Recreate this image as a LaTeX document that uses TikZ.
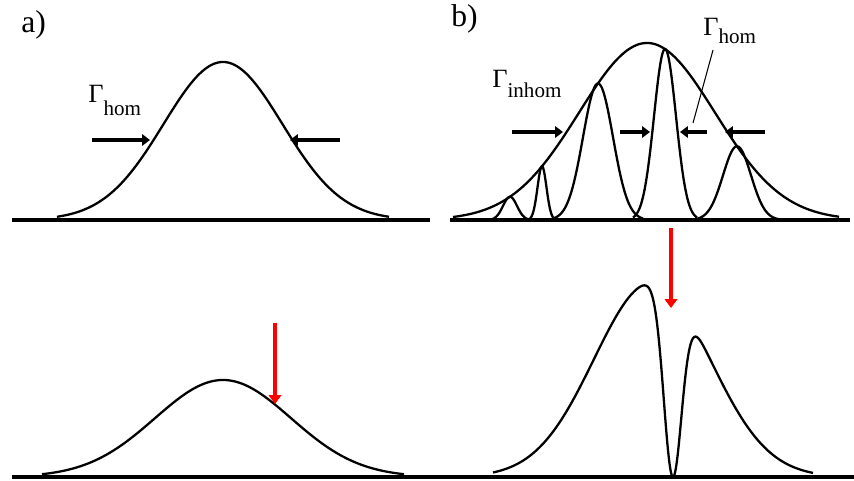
\documentclass[tikz,border=0pt]{standalone}
\usepackage{fontspec}
\setmainfont{Liberation Serif}
\usetikzlibrary{arrows.meta}
\begin{document}
\begin{tikzpicture}[x=0.02cm,y=-0.02cm,
  curve/.style={line width=1.3pt, line join=round},
  baseln/.style={line width=1.8pt},
  blkarrow/.style={line width=2.2pt,-{Triangle[length=4.5pt,width=6.5pt]}},
  redarrow/.style={line width=2.2pt,draw={rgb,255:red,255;green,0;blue,0},-{Triangle[length=5pt,width=7pt]}},
  lbl/.style={inner sep=0pt, anchor=base west, font=\fontsize{15}{18}\selectfont},
  panel/.style={inner sep=0pt, anchor=base west, font=\fontsize{18}{21}\selectfont},
  declare function={
    gs(\x,\c,\s)=exp(-min(0.5*((\x-\c)/\s)^2,30));
    env(\x)=177*gs(\x,647,68);}]
\useasboundingbox (0,0) rectangle (854,480);

% panel labels
\node[panel] (la) at (21,32) {a)};
\node[panel] (lb) at (451,27) {b)};

% ---- top a ----
\draw[baseln] (12,220) -- (430,220);
\draw[curve] plot[domain=57:389, samples=160] (\x,{220-158*gs(\x,223,59.5)});
\coordinate (a1s) at (92,140);  \coordinate (a1e) at (150,140);
\coordinate (a2s) at (340,140); \coordinate (a2e) at (290,140);
\draw[blkarrow] (a1s) -- (a1e);
\draw[blkarrow] (a2s) -- (a2e);
\node[lbl] (ga) at (88,102) {Γ\raisebox{-7.5pt}{\fontsize{12}{14}\selectfont hom}};

% ---- top b ----
\draw[baseln] (450,220) -- (850,220);
\draw[curve] plot[domain=453:839, samples=200] (\x,{220-env(\x)});
\draw[curve] plot[domain=489:531, samples=60] (\x,{220-env(510)*gs(\x,510,7)});
\draw[curve] plot[domain=529:555, samples=60] (\x,{220-env(542)*gs(\x,542,4.5)});
\draw[curve] plot[domain=553:643, samples=100] (\x,{220-env(598)*gs(\x,598,15)});
\draw[curve] plot[domain=633:697, samples=100] (\x,{220-env(665)*gs(\x,665,11)});
\draw[curve] plot[domain=695:779, samples=100] (\x,{220-env(737)*gs(\x,737,14)});
\coordinate (b1s) at (512,132); \coordinate (b1e) at (563,132);
\coordinate (b2s) at (620,132); \coordinate (b2e) at (650,132);
\coordinate (b3s) at (707,132); \coordinate (b3e) at (680,132);
\coordinate (b4s) at (765,132); \coordinate (b4e) at (725,132);
\draw[blkarrow] (b1s) -- (b1e);
\draw[blkarrow] (b2s) -- (b2e);
\draw[blkarrow] (b3s) -- (b3e);
\draw[blkarrow] (b4s) -- (b4e);
\node[lbl] (gi) at (492,87) {Γ\raisebox{-6.2pt}{\fontsize{12}{14}\selectfont inhom}};
\node[lbl] (gh) at (703,35) {Γ\raisebox{-4.6pt}{\fontsize{12}{14}\selectfont hom}};
\coordinate (ls) at (713,50); \coordinate (le) at (693,123);
\draw[line width=0.6pt] (ls) -- (le);

% red arrow between b panels
\coordinate (r1s) at (671,228); \coordinate (r1e) at (671,308);
\draw[redarrow] (r1s) -- (r1e);

% ---- bottom a ----
\draw[baseln] (12,477) -- (430,477);
\draw[curve] plot[domain=42:404, samples=160] (\x,{477-97*gs(\x,223,68)});
\coordinate (r2s) at (275,323); \coordinate (r2e) at (275,404);
\draw[redarrow] (r2s) -- (r2e);

% ---- bottom b ----
\draw[baseln] (430,477) -- (854,477);
\draw[curve] plot[domain=493:813, samples=500] (\x,{477-194.5*gs(\x,652,58)*(1-gs(\x,673,9))});
\end{tikzpicture}
\end{document}
